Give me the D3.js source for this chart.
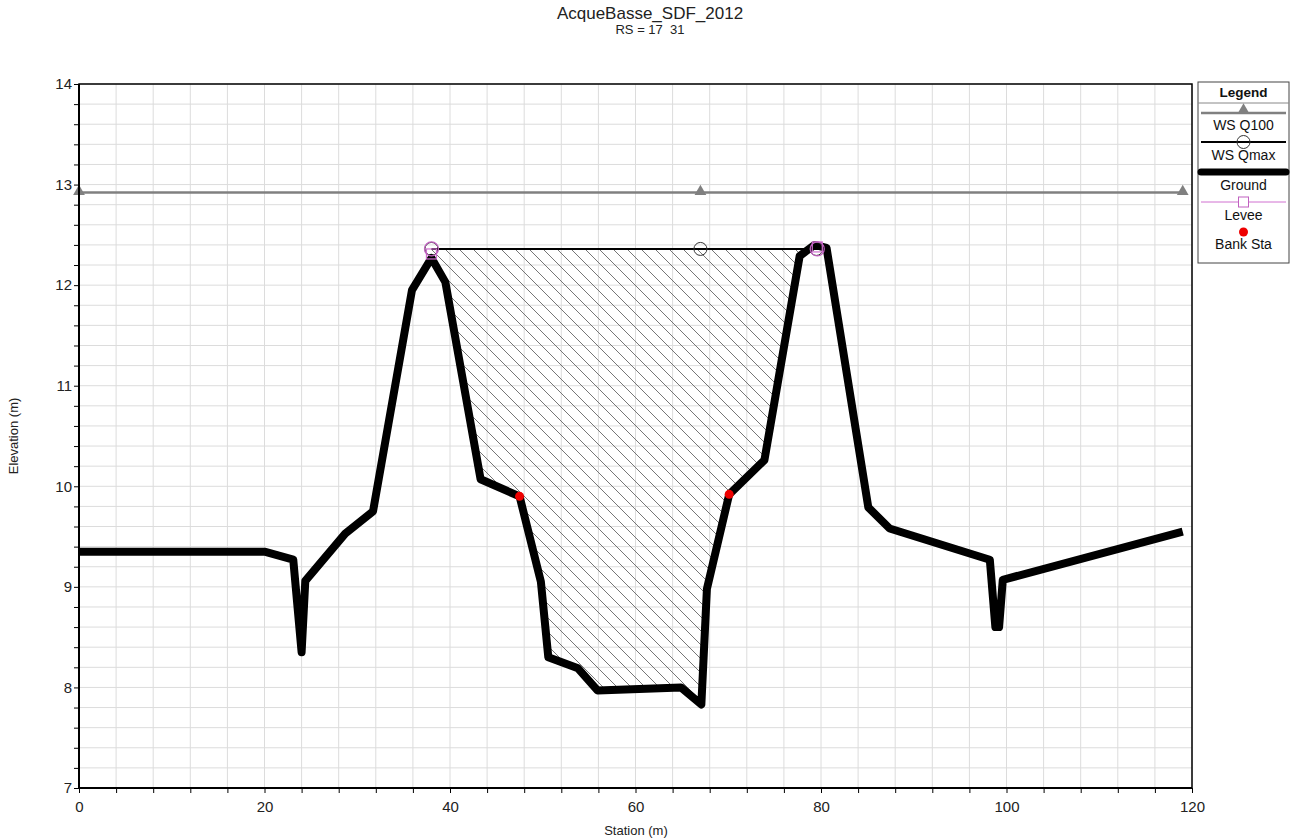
<!DOCTYPE html>
<html>
<head>
<meta charset="utf-8">
<script src="https://cdn.jsdelivr.net/npm/d3@7"></script>
<style>
  body { margin: 0; background: #fff; }
  svg text { font-family: "Liberation Sans", Arial, sans-serif; white-space: pre; }
</style>
</head>
<body>
<div class="chart"></div>
<script>
// ground profile (station m, elevation m)
var groundSta  = [0, 20, 23.1, 24.0, 24.4, 28.7, 31.7, 35.9, 38.0, 39.5, 43.3, 47.5, 49.8, 50.6, 53.8, 55.9, 64.9, 67.1, 67.7, 70.1, 73.9, 77.7, 79.3, 80.6, 85.1, 87.4, 98.2, 98.8, 99.2, 99.6, 119];
var groundElev = [9.35, 9.35, 9.27, 8.35, 9.06, 9.53, 9.75, 11.95, 12.27, 12.03, 10.07, 9.90, 9.05, 8.30, 8.19, 7.97, 8.00, 7.83, 8.98, 9.92, 10.26, 12.29, 12.40, 12.37, 9.79, 9.58, 9.27, 8.60, 8.60, 9.07, 9.55];

var wsQ100Sta = [0, 67, 119];
var wsQ100Elev = 12.92;
var wsQmaxSta = [38.0, 67, 79.5];
var wsQmaxElev = 12.36;
var leveeSta = [38.0, 79.6];
var leveeElev = [12.31, 12.38];
var bankSta = [47.5, 70.1];
var bankElev = [9.90, 9.92];

var xTicks = [0, 20, 40, 60, 80, 100, 120];
var yTicks = [7, 8, 9, 10, 11, 12, 13, 14];

var W = 1293, H = 838;
var mLeft = 79, mRight = 1192, mTop = 84, mBottom = 788;

var x = d3.scaleLinear().domain([0, 120]).range([mLeft, mRight]);
var y = d3.scaleLinear().domain([7, 14]).range([mBottom, mTop]);

var ground = groundSta.map(function (s, i) { return { s: s, e: groundElev[i] }; });

var svg = d3.select(".chart").append("svg")
    .attr("width", W).attr("height", H);

// hatch pattern
var defs = svg.append("defs");
var pat = defs.append("pattern")
    .attr("id", "hatch")
    .attr("patternUnits", "userSpaceOnUse")
    .attr("width", 14).attr("height", 14);
pat.append("path")
    .attr("d", "M-1,-1 L15,15 M-15,-1 L1,15 M13,-1 L29,15")
    .attr("stroke", "#666").attr("stroke-width", 0.9);

// minor grid
var minorX = d3.range(0, 120.01, 4);
var minorY = d3.range(7, 14.001, 0.2);
svg.append("g").selectAll("line").data(minorX).enter().append("line")
    .attr("x1", function (d) { return x(d); }).attr("x2", function (d) { return x(d); })
    .attr("y1", mTop).attr("y2", mBottom)
    .attr("stroke", "#dcdcdc").attr("stroke-width", 1);
svg.append("g").selectAll("line").data(minorY).enter().append("line")
    .attr("y1", function (d) { return y(d); }).attr("y2", function (d) { return y(d); })
    .attr("x1", mLeft).attr("x2", mRight)
    .attr("stroke", "#dcdcdc").attr("stroke-width", 1);

// hatched flow area between ground and WS Qmax
var inFlow = ground.filter(function (d) { return d.s >= wsQmaxSta[0] && d.s <= 79.3; });
var flowArea = d3.area()
    .x(function (d) { return x(d.s); })
    .y0(function (d) { return y(Math.min(d.e, wsQmaxElev)); })
    .y1(function () { return y(wsQmaxElev); });
svg.append("path").datum(inFlow)
    .attr("d", flowArea)
    .attr("fill", "url(#hatch)");

// WS Q100
svg.append("line")
    .attr("x1", x(wsQ100Sta[0])).attr("x2", x(wsQ100Sta[2]))
    .attr("y1", y(wsQ100Elev)).attr("y2", y(wsQ100Elev))
    .attr("stroke", "#808080").attr("stroke-width", 2.5);
var tri = d3.symbol().type(d3.symbolTriangle).size(60);
svg.append("g").selectAll("path").data(wsQ100Sta).enter().append("path")
    .attr("d", tri)
    .attr("transform", function (d) { return "translate(" + x(d) + "," + (y(wsQ100Elev) - 1) + ")"; })
    .attr("fill", "#808080");

// WS Qmax
svg.append("line")
    .attr("x1", x(wsQmaxSta[0])).attr("x2", x(wsQmaxSta[2]))
    .attr("y1", y(wsQmaxElev)).attr("y2", y(wsQmaxElev))
    .attr("stroke", "#000").attr("stroke-width", 2);

// ground
var line = d3.line().x(function (d) { return x(d.s); }).y(function (d) { return y(d.e); });
svg.append("path").datum(ground)
    .attr("d", line)
    .attr("fill", "none").attr("stroke", "#000")
    .attr("stroke-width", 8).attr("stroke-linejoin", "round");

svg.append("g").selectAll("circle").data(wsQmaxSta).enter().append("circle")
    .attr("cx", function (d) { return x(d); }).attr("cy", y(wsQmaxElev))
    .attr("r", 6.5).attr("fill", "none").attr("stroke", "#333").attr("stroke-width", 1);

// levee
svg.append("g").selectAll("rect").data(leveeSta).enter().append("rect")
    .attr("x", function (d) { return x(d) - 5; })
    .attr("y", function (d, i) { return y(leveeElev[i]) - 5; })
    .attr("width", 10).attr("height", 10)
    .attr("fill", "none").attr("stroke", "#d070d0").attr("stroke-width", 1.2);
svg.append("g").selectAll("circle").data(leveeSta).enter().append("circle")
    .attr("cx", function (d) { return x(d); }).attr("cy", y(wsQmaxElev))
    .attr("r", 7).attr("fill", "none").attr("stroke", "#c060c0").attr("stroke-width", 1.2);

// bank stations
svg.append("g").selectAll("circle").data(bankSta).enter().append("circle")
    .attr("cx", function (d) { return x(d); })
    .attr("cy", function (d, i) { return y(bankElev[i]); })
    .attr("r", 4.5).attr("fill", "#ee0000");

// axes
var xAxis = d3.axisBottom(x).tickValues(minorX).tickSize(5)
    .tickFormat(function (d) { return xTicks.indexOf(d) >= 0 ? d : ""; });
var yAxis = d3.axisLeft(y).tickValues(minorY).tickSize(5)
    .tickFormat(function (d) { var r = Math.round(d * 10) / 10; return yTicks.indexOf(r) >= 0 ? r : ""; });

var gx = svg.append("g").attr("transform", "translate(0," + mBottom + ")").call(xAxis);
gx.selectAll("text").attr("font-size", 15).attr("fill", "#222").attr("dy", "1.05em")
    .style("font-family", "'Liberation Sans', Arial, sans-serif");
var gy = svg.append("g").attr("transform", "translate(" + mLeft + ",0)").call(yAxis);
gy.selectAll("text").attr("font-size", 15).attr("fill", "#222").attr("x", -7)
    .style("font-family", "'Liberation Sans', Arial, sans-serif");
[gx, gy].forEach(function (g) {
    g.select(".domain").remove();
    g.selectAll(".tick line").attr("stroke", "#000");
});

// frame
svg.append("rect")
    .attr("x", mLeft).attr("y", mTop)
    .attr("width", mRight - mLeft).attr("height", mBottom - mTop)
    .attr("fill", "none").attr("stroke", "#000").attr("stroke-width", 1.5);
svg.append("line").attr("x1", mLeft).attr("x2", mLeft).attr("y1", mTop).attr("y2", mBottom)
    .attr("stroke", "#000").attr("stroke-width", 2);
svg.append("line").attr("x1", mLeft).attr("x2", mRight).attr("y1", mBottom).attr("y2", mBottom)
    .attr("stroke", "#000").attr("stroke-width", 2);

// titles
svg.append("text").attr("x", 650).attr("y", 19).attr("text-anchor", "middle")
    .attr("font-size", 17).attr("fill", "#222").text("AcqueBasse_SDF_2012");
svg.append("text").attr("x", 650).attr("y", 34).attr("text-anchor", "middle")
    .attr("font-size", 13).attr("fill", "#222").text("RS = 17  31");
svg.append("text").attr("x", 636).attr("y", 835).attr("text-anchor", "middle")
    .attr("font-size", 13).attr("fill", "#222").text("Station (m)");
svg.append("text").attr("transform", "translate(18,436) rotate(-90)").attr("text-anchor", "middle")
    .attr("font-size", 13).attr("fill", "#222").text("Elevation (m)");

// legend
var lg = svg.append("g");
var lx0 = 1198, lx1 = 1289;
lg.append("rect").attr("x", lx0).attr("y", 82).attr("width", lx1 - lx0).attr("height", 181)
    .attr("fill", "#fff").attr("stroke", "#444").attr("stroke-width", 1);
lg.append("line").attr("x1", lx0).attr("x2", lx1).attr("y1", 103).attr("y2", 103)
    .attr("stroke", "#888");
lg.append("text").attr("x", (lx0 + lx1) / 2).attr("y", 97).attr("text-anchor", "middle")
    .attr("font-size", 13.5).attr("font-weight", "bold").attr("fill", "#111").text("Legend");

var lcx = (lx0 + lx1) / 2;
lg.append("line").attr("x1", lx0 + 3).attr("x2", lx1 - 3).attr("y1", 113).attr("y2", 113)
    .attr("stroke", "#808080").attr("stroke-width", 2.5);
lg.append("path").attr("d", tri).attr("transform", "translate(" + lcx + ",110)").attr("fill", "#808080");
lg.append("line").attr("x1", lx0 + 3).attr("x2", lx1 - 3).attr("y1", 142).attr("y2", 142)
    .attr("stroke", "#000").attr("stroke-width", 2);
lg.append("circle").attr("cx", lcx).attr("cy", 142).attr("r", 6.5)
    .attr("fill", "none").attr("stroke", "#333");
lg.append("line").attr("x1", lx0 + 3).attr("x2", lx1 - 3).attr("y1", 172).attr("y2", 172)
    .attr("stroke", "#000").attr("stroke-width", 7).attr("stroke-linecap", "round");
lg.append("line").attr("x1", lx0 + 3).attr("x2", lx1 - 3).attr("y1", 202).attr("y2", 202)
    .attr("stroke", "#d070d0").attr("stroke-width", 1);
lg.append("rect").attr("x", lcx - 5).attr("y", 197).attr("width", 10).attr("height", 10)
    .attr("fill", "#fff").attr("stroke", "#c060c0");
lg.append("circle").attr("cx", lcx).attr("cy", 232).attr("r", 4.5).attr("fill", "#ee0000");

var legLabels = ["WS Q100", "WS Qmax", "Ground", "Levee", "Bank Sta"];
var legY = [130, 160, 190, 220, 249];
lg.selectAll("text.lab").data(legLabels).enter().append("text")
    .attr("class", "lab")
    .attr("x", lcx).attr("y", function (d, i) { return legY[i]; })
    .attr("text-anchor", "middle").attr("font-size", 14).attr("fill", "#111")
    .text(function (d) { return d; });
</script>
</body>
</html>
